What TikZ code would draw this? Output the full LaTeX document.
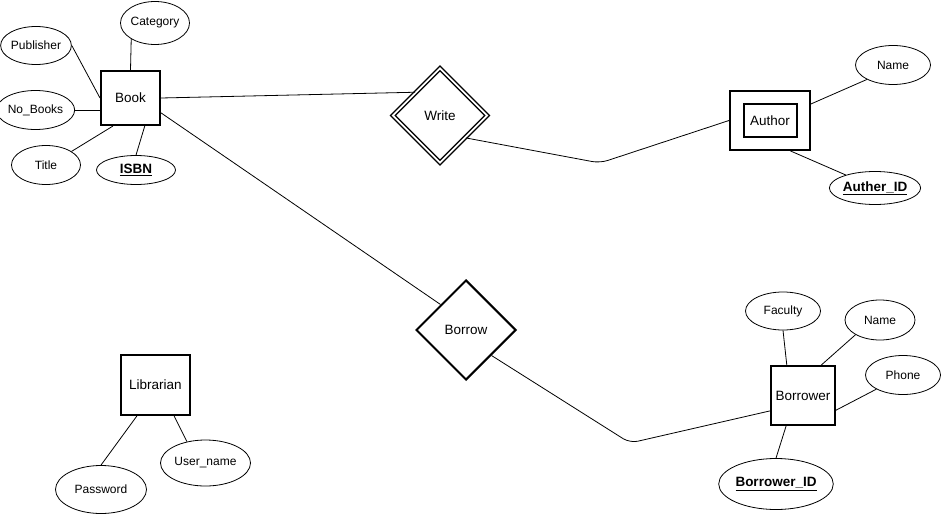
\documentclass[tikz,border=0pt]{standalone}
\usepackage{fontspec}
\setmainfont{Liberation Sans}
\usetikzlibrary{shapes}

\begin{document}
\begin{tikzpicture}[x=1pt,y=-1pt,line width=0.8pt,
    entity/.style={shape=rectangle,draw=black,line width=2pt,inner sep=0pt,font=\fontsize{13.5}{16}\selectfont},
    attr/.style={shape=ellipse,draw=black,line width=0.8pt,inner sep=0pt,font=\fontsize{12}{14}\selectfont},
    keyattr/.style={attr,font=\fontsize{13.5}{16}\selectfont\bfseries},
    rel/.style={shape=diamond,draw=black,line width=2pt,inner sep=0pt,aspect=1,font=\fontsize{13.5}{16}\selectfont}]
                \useasboundingbox (0,0) rectangle (941,516);
                % entities
                \node[entity,minimum width=59,minimum height=54](Book)at(130.5, 98){Book};
                \node[entity,minimum width=80,minimum height=59](Author)at(770, 120.5){};
                \node[entity,minimum width=53,minimum height=32](AuthorIn)at(770, 120.5){Author};
                \node[entity,minimum width=64,minimum height=59](Borrower)at(803, 395.5){Borrower};
                \node[entity,minimum width=69,minimum height=60](Librarian)at(155.5, 385){Librarian};
                % relations
                \node[rel,double,line width=1.4pt,double distance=1.8pt,minimum width=95,minimum height=95](Write)at(440, 115.5){Write};
                \node[rel,minimum width=100,minimum height=100](Borrow)at(466, 330){Borrow};
                % attributes
                \node[attr,minimum width=69,minimum height=43](Category)at(155, 23){Category};
                \node[attr,minimum width=69,minimum height=38](Publisher)at(36, 45.5){Publisher};
                \node[attr,minimum width=69,minimum height=39](NoBooks)at(35.5, 110){No\_Books};
                \node[attr,minimum width=69,minimum height=39](Title)at(46, 165){Title};
                \node[keyattr,minimum width=79,minimum height=29](ISBN)at(136, 170){\underline{ISBN}};
                \node[attr,minimum width=75,minimum height=39](AName)at(893, 65){Name};
                \node[keyattr,minimum width=80,minimum height=33](AutherID)at(875, 188){\underline{Auther\_ID}};
                \node[attr,minimum width=75,minimum height=38](Faculty)at(783, 311){Faculty};
                \node[attr,minimum width=70,minimum height=40](BName)at(880, 320){Name};
                \node[attr,minimum width=75,minimum height=39](Phone)at(903, 375){Phone};
                \node[keyattr,minimum width=91,minimum height=51](BorrowerID)at(776, 484){\underline{Borrower\_ID}};
                \node[attr,minimum width=91,minimum height=48](Password)at(101, 489.5){Password};
                \node[attr,minimum width=90,minimum height=46](UserName)at(205.5, 463){User\_name};
                \coordinate (bendW) at (600, 163);
                \coordinate (bendB) at (630, 443);
                % connectors
                \path[](Category.214) edge (Book.north)
                (Publisher.east) edge (Book.west)
                (NoBooks.east) edge (NoBooks.east -| Book.west)
                (Title.28) edge (Book.238)
                (ISBN.north) edge (Book.297)
                (Book.east) edge (Write.137)
                (Book.334) edge (Borrow.135)
                (Author.22) edge (AName.209)
                (Author.304) edge (AutherID.156)
                (Faculty.south) edge (Borrower.118)
                (BName.211) edge (Borrower.59)
                (Phone.208) edge (Borrower.336)
                (BorrowerID.north) edge (Borrower.241)
                (Librarian.239) edge (Password.north)
                (Librarian.301) edge (UserName.131);
                \draw[rounded corners=8pt] (Write.319) -- (bendW) -- (Author.west);
                \draw[rounded corners=8pt] (Borrow.315) -- (bendB) -- (Borrower.205);
            \end{tikzpicture}
\end{document}
